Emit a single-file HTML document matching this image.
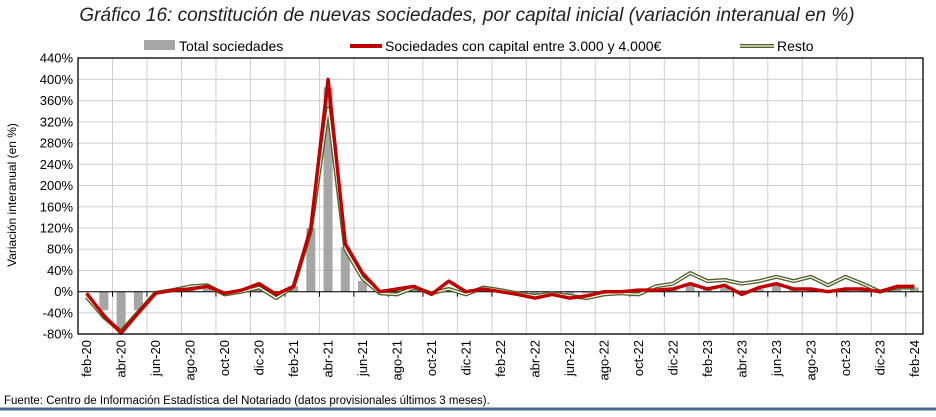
<!DOCTYPE html>
<html><head><meta charset="utf-8"><style>
body{margin:0;background:#fff;width:936px;height:412px;overflow:hidden;font-family:"Liberation Sans",sans-serif}
</style></head><body>
<svg id="s" width="936" height="412" xmlns="http://www.w3.org/2000/svg" font-family="Liberation Sans, sans-serif">
<text x="467" y="21" text-anchor="middle" font-size="19" font-style="italic" fill="#222">Gráfico 16: constitución de nuevas sociedades, por capital inicial (variación interanual en %)</text>
<rect x="144" y="40" width="31" height="10" fill="#a6a6a6"/>
<text x="179" y="51" font-size="14" fill="#000">Total sociedades</text>
<line x1="350" y1="46" x2="382" y2="46" stroke="#c00000" stroke-width="4"/>
<text x="385" y="51" font-size="14" fill="#000">Sociedades con capital entre 3.000 y 4.000€</text>
<line x1="740" y1="46" x2="774" y2="46" stroke="#4f6228" stroke-width="4"/>
<line x1="740" y1="46" x2="774" y2="46" stroke="#fff" stroke-width="1.3"/>
<text x="777" y="51" font-size="14" fill="#000">Resto</text>
<text transform="translate(16,195) rotate(-90)" text-anchor="middle" font-size="12" fill="#000">Variación interanual (en %)</text>
<g id="g"></g>
<line x1="0" y1="409" x2="936" y2="409" stroke="#4a6b8f" stroke-width="3"/>
<text x="4" y="404" font-size="11.5" fill="#000">Fuente: Centro de Información Estadística del Notariado (datos provisionales últimos 3 meses).</text>
</svg>
<script>
var L=78,R=923,T=58,B=334,n=49,w=(R-L)/n;
function Y(v){return 291.7-v*0.5308}
function X(i){return L+(i+0.5)*w}
var red=[-3,-45,-78,-40,-3,3,5,10,-3,3,15,-5,10,120,400,90,35,0,5,10,-5,20,0,5,0,-5,-12,-5,-12,-8,0,0,3,3,5,15,5,12,-5,8,15,5,5,0,5,5,0,10,10];
var grn=[-10,-48,-75,-38,-2,3,10,12,-5,0,8,-12,10,115,345,80,25,-3,-5,8,-3,5,-5,8,3,-3,-8,-3,-8,-12,-5,-3,-5,10,15,35,20,22,15,20,28,20,28,12,28,15,0,8,8];
var bar=[0,-35,-70,-35,0,2,8,8,-5,2,5,-3,10,120,385,84,20,2,3,5,-3,8,2,3,2,-3,-5,-3,-5,-3,1,1,3,4,8,14,6,8,3,5,12,5,6,3,5,5,2,8,8];
var h='';
for(var v=-80;v<=440;v+=40){h+='<line x1="'+L+'" x2="'+R+'" y1="'+Y(v)+'" y2="'+Y(v)+'" stroke="#d0d0d0"/>';
h+='<text x="'+(L-5)+'" y="'+(Y(v)+4.5)+'" text-anchor="end" font-size="13">'+v+'%</text>';}
for(var i=2;i<n;i+=2){var x=L+i*w;h+='<line x1="'+x+'" x2="'+x+'" y1="'+T+'" y2="'+B+'" stroke="#d0d0d0"/>';}
for(var i=0;i<n;i++){var b=bar[i];var y0=Y(0),y1=Y(b);h+='<rect x="'+(X(i)-4.5)+'" width="9" y="'+Math.min(y0,y1)+'" height="'+Math.abs(y1-y0)+'" fill="#a6a6a6"/>';}
h+='<line x1="'+L+'" x2="'+R+'" y1="'+Y(0)+'" y2="'+Y(0)+'" stroke="#000"/>';
for(var i=0;i<=n;i+=2){var x=L+i*w;h+='<line x1="'+x+'" x2="'+x+'" y1="'+Y(0)+'" y2="'+(Y(0)+5)+'" stroke="#000"/>';}
function pl(a){return a.map(function(v,i){return X(i).toFixed(1)+','+Y(v).toFixed(1)}).join(' ')}
h+='<polyline points="'+pl(grn)+'" fill="none" stroke="#4f6228" stroke-width="4" stroke-linejoin="round"/>';
h+='<polyline points="'+pl(grn)+'" fill="none" stroke="#fff" stroke-width="1.3" stroke-linejoin="round"/>';
h+='<polyline points="'+pl(red)+'" fill="none" stroke="#c00000" stroke-width="3.5" stroke-linejoin="round"/>';
h+='<rect x="'+L+'" y="'+T+'" width="'+(R-L)+'" height="'+(B-T)+'" fill="none" stroke="#000" stroke-width="1.3"/>';
var m=['feb','abr','jun','ago','oct','dic'];
for(var i=0;i<n;i+=2){var yr=20+Math.floor((i+1)/12);var lab=m[(i/2)%6]+'-'+yr;
h+='<text transform="translate('+(X(i)+4.5)+',340) rotate(-90)" text-anchor="end" font-size="13">'+lab+'</text>';}
document.getElementById('g').innerHTML=h;
</script>
</body></html>
